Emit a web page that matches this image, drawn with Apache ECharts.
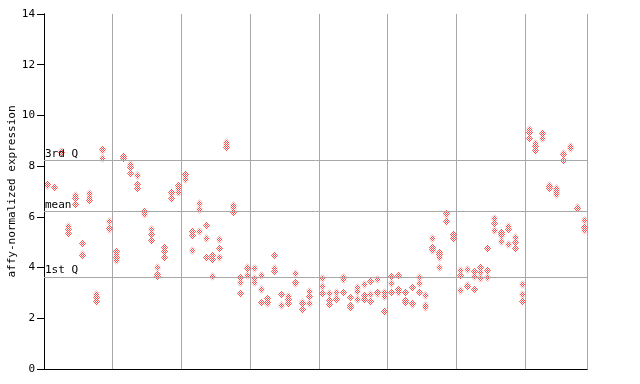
<!DOCTYPE html>
<html>
<head>
<meta charset="utf-8">
<script src="https://cdn.jsdelivr.net/npm/echarts@6/dist/echarts.min.js"></script>
<style>
html,body{margin:0;padding:0;background:#fff;}
#c{width:640px;height:384px;}
</style>
</head>
<body>
<div id="c"></div>
<script>
// Expression values per sample (columns), grouped as in the chart (8 groups)
const group1 = [
  [7.31, 7.27], [7.17], [8.59, 8.55], [5.64, 5.51, 5.38], [6.88, 6.80, 6.76, 6.51],
  [4.96, 4.52, 4.48], [6.93, 6.80, 6.67], [2.96, 2.82, 2.68], [8.67, 8.63, 8.31], [5.84, 5.57, 5.53]
];
const group2 = [
  [4.66, 4.53, 4.41, 4.30], [8.40, 8.32], [8.07, 7.99, 7.95, 7.72], [7.65, 7.30, 7.15], [6.25, 6.21, 6.13],
  [5.52, 5.31, 5.09], [4.02, 3.76, 3.67], [4.80, 4.65, 4.42], [6.97, 6.93, 6.73], [7.26, 7.13, 7.00]
];
const group3 = [
  [7.68, 7.64, 7.51], [5.45, 5.29, 4.68], [6.55, 6.30, 5.44], [5.67, 5.15, 4.41], [4.48, 4.32, 3.67],
  [5.13, 4.76, 4.41], [8.97, 8.87, 8.77], [6.46, 6.38, 6.18], [3.63, 3.43, 2.99], [4.01, 3.97, 3.69]
];
const group4 = [
  [3.97, 3.60, 3.42], [3.69, 3.14, 2.63], [2.79, 2.66, 2.62], [4.48, 3.97, 3.88], [2.95, 2.51],
  [2.88, 2.77, 2.73, 2.62], [3.77, 3.42, 3.38], [2.63, 2.59, 2.35], [3.08, 2.87, 2.59], []
];
const group5 = [
  [3.60, 3.27, 2.98], [3.01, 2.72, 2.55], [3.03, 2.79, 2.75], [3.63, 3.55, 3.02], [2.83, 2.52, 2.44],
  [3.23, 3.06, 2.75], [3.34, 2.91, 2.75], [3.47, 2.95, 2.67], [3.54, 3.05, 3.01], [3.02, 2.87, 2.28]
];
const group6 = [
  [3.67, 3.40, 3.02], [3.69, 3.16, 3.12, 3.04], [3.02, 2.73, 2.64], [3.22, 2.62, 2.58], [3.63, 3.40, 3.05],
  [2.91, 2.52, 2.43], [5.15, 4.80, 4.72, 4.68], [4.62, 4.52, 4.43, 4.01], [6.14, 6.10, 5.82], [5.32, 5.21, 5.17]
];
const group7 = [
  [3.90, 3.69, 3.11], [3.96, 3.33, 3.26], [3.86, 3.66, 3.15], [4.02, 3.81, 3.58], [4.76, 3.90, 3.62],
  [5.94, 5.77, 5.47], [5.41, 5.32, 5.28, 5.06], [5.64, 5.54, 4.91], [5.22, 5.00, 4.76], [3.34, 2.95, 2.67]
];
const group8 = [
  [9.45, 9.38, 9.34, 9.11], [8.90, 8.79, 8.62], [9.29, 9.10], [7.26, 7.22, 7.15], [7.13, 7.04, 7.00, 6.90],
  [8.51, 8.47, 8.25], [8.81, 8.73], [6.37, 6.33], [5.88, 5.61, 5.48]
];
const quartileNames = ['3rd Q', 'mean', '1st Q'];
const quartileValues = [8.23, 6.22, 3.63];
const yTicks = [0, 2, 4, 6, 8, 10, 12, 14];

const columns = [].concat(group1, group2, group3, group4, group5, group6, group7, group8);
const points = [];
columns.forEach((vals, i) => vals.forEach(v => points.push([i + 0.5, v])));

// checkered fill pattern
const pc = document.createElement('canvas');
pc.width = 2; pc.height = 2;
const pctx = pc.getContext('2d');
pctx.fillStyle = '#ff4d4d';
pctx.fillRect(0, 0, 1, 1);
pctx.fillRect(1, 1, 1, 1);
const pattern = { image: pc, repeat: 'repeat' };

const font = '"DejaVu Sans Mono", monospace';
const chart = echarts.init(document.getElementById('c'), null, { renderer: 'canvas' });
chart.setOption({
  animation: false,
  backgroundColor: '#fff',
  grid: { left: 44, right: 53, top: 14, bottom: 15, show: false, containLabel: false, outerBoundsMode: 'none' },
  xAxis: [{
    type: 'value', min: 0, max: columns.length, interval: 10, z: 1,
    axisLine: { show: true, lineStyle: { color: '#000', width: 1 } },
    axisTick: { show: false }, axisLabel: { show: false },
    splitLine: { show: true, lineStyle: { color: '#a8a8a8', width: 1 } }
  }, {
    type: 'value', position: 'top', min: 0, max: columns.length, z: 3,
    axisLine: { show: true, lineStyle: { color: '#000', width: 1 } },
    axisTick: { show: false }, axisLabel: { show: false }, splitLine: { show: false }
  }],
  yAxis: [{
    type: 'value', min: yTicks[0], max: yTicks[yTicks.length - 1], interval: 2, z: 3,
    name: 'affy-normalized expression', nameLocation: 'middle', nameGap: 26, nameMoveOverlap: false,
    nameTextStyle: { fontFamily: font, fontSize: 11, color: '#000' },
    axisLine: { show: true, lineStyle: { color: '#000', width: 1 } },
    axisTick: { show: true, inside: false, length: 7, lineStyle: { color: '#000' } },
    axisLabel: { margin: 9, fontFamily: font, fontSize: 11, color: '#000' },
    splitLine: { show: false }
  }, {
    type: 'value', position: 'right', min: yTicks[0], max: yTicks[yTicks.length - 1], interval: 2, z: 3,
    axisLine: { show: true, lineStyle: { color: '#000', width: 1 } },
    axisTick: { show: true, inside: true, length: 5, lineStyle: { color: '#000' } },
    axisLabel: { show: false }, splitLine: { show: false }
  }],
  series: [{
    type: 'custom',
    silent: true,
    xAxisIndex: 0, yAxisIndex: 0,
    data: points,
    renderItem: function (params, api) {
      const p = api.coord([api.value(0), api.value(1)]);
      const cx = Math.round(p[0]), cy = Math.round(p[1]);
      return {
        type: 'polygon',
        silent: true,
        shape: { points: [[cx + 0.5, cy - 3.5], [cx + 4, cy + 0.5], [cx + 0.5, cy + 4.5], [cx - 3, cy + 0.5]] },
        style: { fill: pattern, stroke: null }
      };
    },
    markLine: {
      silent: true,
      symbol: ['none', 'none'],
      animation: false,
      lineStyle: { color: '#a8a8a8', width: 1, type: 'solid' },
      label: {
        show: true, position: 'insideStartTop', distance: [1, 1],
        fontFamily: font, fontSize: 11, color: '#000',
        formatter: function (p) { return p.name; }
      },
      data: quartileValues.map((v, i) => ({ name: quartileNames[i], yAxis: v }))
    }
  }]
});
</script>
</body>
</html>
